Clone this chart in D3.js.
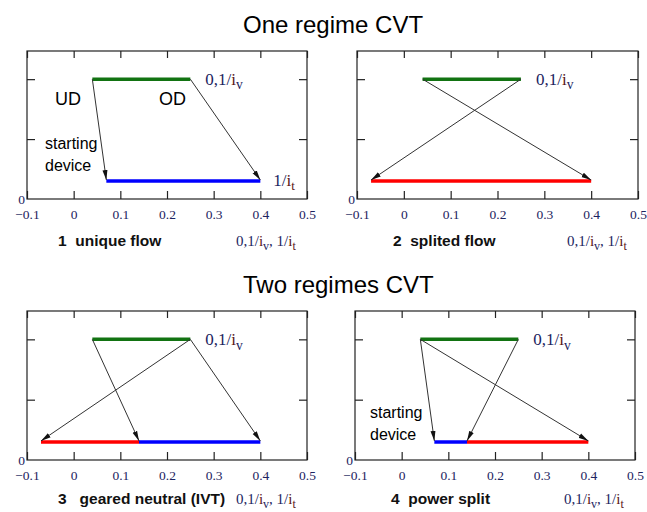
<!DOCTYPE html>
<html><head><meta charset="utf-8">
<script src="https://cdn.jsdelivr.net/npm/d3@7"></script>
<style>body{margin:0;background:#fff}svg{display:block}</style>
</head><body>
<script>
// ---- data ----
const sectionTitles = ["One regime CVT", "Two regimes CVT"];
const captions = ["1  unique flow", "2  splited flow", "3   geared neutral (IVT)", "4  power split"];
const xTickValues = [-0.1, 0, 0.1, 0.2, 0.3, 0.4, 0.5];
const xTickLabels = ["\u22120.1", "0", "0.1", "0.2", "0.3", "0.4", "0.5"];
const yTickValues = [1, 2];
const xDomain = [-0.1, 0.5];
const yDomain = [0, 2.47];
const variatorLevel = 2;      // 0,1/i_v line
const outputLevel = 0.3;      // 1/i_t line
const variatorRange = [0.04, 0.25];
const outputSegments = [
  [{x0: 0.07, x1: 0.40, kind: "blue"}],
  [{x0: -0.07, x1: 0.40, kind: "red"}],
  [{x0: -0.07, x1: 0.14, kind: "red"}, {x0: 0.14, x1: 0.40, kind: "blue"}],
  [{x0: 0.07, x1: 0.14, kind: "blue"}, {x0: 0.14, x1: 0.40, kind: "red"}]
];
const arrows = [
  [[0.04, 0.07], [0.25, 0.40]],
  [[0.25, -0.07], [0.04, 0.40]],
  [[0.25, -0.07], [0.04, 0.14], [0.25, 0.40]],
  [[0.04, 0.07], [0.25, 0.14], [0.04, 0.40]]
];

// ---- layout ----
const W = 647, H = 512;
const boxes = [
  {l: 27, r: 307, t: 51, b: 199, cap: 47},
  {l: 357, r: 638, t: 51, b: 199, cap: 47},
  {l: 27, r: 307, t: 311, b: 460, cap: 44},
  {l: 355, r: 635, t: 311, b: 460, cap: 44}
];
const colors = {green: "#127312", blue: "#0000ff", red: "#ff0000"};
const serif = "'Liberation Serif','Times New Roman',serif";
const sans = "'Liberation Sans',Arial,sans-serif";
const numColor = "#1c2460";
const iColor = "#5a1414";

const svg = d3.select("body").append("svg").attr("width", W).attr("height", H);
svg.append("rect").attr("width", W).attr("height", H).attr("fill", "#fff");

const defs = svg.append("defs");
defs.append("marker").attr("id", "ah").attr("markerUnits", "userSpaceOnUse")
  .attr("markerWidth", 10).attr("markerHeight", 6).attr("refX", 10).attr("refY", 3)
  .attr("orient", "auto")
  .append("path").attr("d", "M0,0.5L10,3L0,5.5Z").attr("fill", "#111");

// section titles
[33, 293].forEach((y, i) => {
  svg.append("text").attr("x", 243).attr("y", y).style("font-family", sans)
    .style("font-size", "24px").attr("fill", "#000").text(sectionTitles[i]);
});

function ivLabel(g, x, y, size, withT) {
  const t = g.append("text").attr("x", x).attr("y", y).style("font-family", serif)
    .style("font-size", size + "px").attr("fill", numColor);
  t.append("tspan").text("0,1/");
  t.append("tspan").attr("fill", iColor).text("i");
  t.append("tspan").style("font-size", (size * 0.8) + "px").attr("dy", size * 0.25).text("v");
  if (withT) {
    t.append("tspan").attr("dy", -size * 0.25).text(", 1/");
    t.append("tspan").attr("fill", iColor).text("i");
    t.append("tspan").style("font-size", (size * 0.8) + "px").attr("fill", iColor).attr("dy", size * 0.25).text("t");
  }
  return t;
}

boxes.forEach((bx, p) => {
  const g = svg.append("g");
  const x = d3.scaleLinear().domain(xDomain).range([bx.l, bx.r]);
  const y = d3.scaleLinear().domain(yDomain).range([bx.b, bx.t]);

  // axes with inward ticks
  const bottom = g.append("g").attr("transform", `translate(0,${bx.b})`)
    .call(d3.axisBottom(x).tickValues(xTickValues).tickSize(-8).tickPadding(10)
      .tickFormat((d, i) => xTickLabels[i]));
  bottom.attr("font-family", null).attr("font-size", null);
  bottom.selectAll("text").style("font-family", serif).style("font-size", "13.5px").attr("fill", numColor);
  const top = g.append("g").attr("transform", `translate(0,${bx.t})`)
    .call(d3.axisTop(x).tickValues(xTickValues).tickSize(-7).tickFormat(""));
  const left = g.append("g").attr("transform", `translate(${bx.l},0)`)
    .call(d3.axisLeft(y).tickValues(yTickValues).tickSize(-8).tickFormat(""));
  const right = g.append("g").attr("transform", `translate(${bx.r},0)`)
    .call(d3.axisRight(y).tickValues(yTickValues).tickSize(-8).tickFormat(""));
  [bottom, top, left, right].forEach(a => {
    a.select(".domain").remove();
    a.selectAll("line").attr("stroke", "#222").attr("stroke-width", 1.2);
  });
  g.append("rect").attr("x", bx.l).attr("y", bx.t).attr("width", bx.r - bx.l).attr("height", bx.b - bx.t)
    .attr("fill", "none").attr("stroke", "#222").attr("stroke-width", 1.2);
  g.append("text").attr("x", bx.l - 2).attr("y", bx.b + 5).attr("text-anchor", "end")
    .style("font-family", serif).style("font-size", "13.5px").attr("fill", numColor).text("0");

  // variator line
  g.append("line").attr("x1", x(variatorRange[0])).attr("x2", x(variatorRange[1]))
    .attr("y1", y(variatorLevel)).attr("y2", y(variatorLevel))
    .attr("stroke", colors.green).attr("stroke-width", 3.5);
  // output segments
  outputSegments[p].forEach(s => {
    g.append("line").attr("x1", x(s.x0)).attr("x2", x(s.x1))
      .attr("y1", y(outputLevel)).attr("y2", y(outputLevel))
      .attr("stroke", colors[s.kind]).attr("stroke-width", 3.5);
  });
  // arrows
  arrows[p].forEach(([a, b]) => {
    g.append("line").attr("x1", x(a)).attr("y1", y(variatorLevel))
      .attr("x2", x(b)).attr("y2", y(outputLevel) - 1)
      .attr("stroke", "#333").attr("stroke-width", 1).attr("marker-end", "url(#ah)");
  });

  // labels
  ivLabel(g, x(0.25) + 15, y(variatorLevel) + 6, 17, false);
  ivLabel(g, bx.r - 71, bx.b + bx.cap, 15, true);
  g.append("text").attr("x", bx.l + 31 + (p % 2 ? 5 : 0)).attr("y", bx.b + bx.cap)
    .style("font-family", sans).style("font-weight", "bold").style("font-size", "15.5px")
    .attr("fill", "#111").style("white-space", "pre")
    .text(captions[p]);
});

// panel 1 extra labels
{
  const bx = boxes[0];
  const x = d3.scaleLinear().domain(xDomain).range([bx.l, bx.r]);
  const y = d3.scaleLinear().domain(yDomain).range([bx.b, bx.t]);
  const t = svg.append("text").attr("x", x(0.4) + 13).attr("y", y(outputLevel) + 5)
    .style("font-family", serif).style("font-size", "17px").attr("fill", numColor);
  t.append("tspan").text("1/");
  t.append("tspan").attr("fill", iColor).text("i");
  t.append("tspan").style("font-size", "13px").attr("fill", iColor).attr("dy", 4).text("t");
  svg.append("text").attr("x", 55).attr("y", 105).style("font-family", sans).style("font-size", "18px").text("UD");
  svg.append("text").attr("x", 159).attr("y", 105).style("font-family", sans).style("font-size", "18px").text("OD");
  svg.append("text").attr("x", 45).attr("y", 149).style("font-family", sans).style("font-size", "16px").text("starting");
  svg.append("text").attr("x", 45).attr("y", 171).style("font-family", sans).style("font-size", "16px").text("device");
}
// panel 4 extra labels
svg.append("text").attr("x", 370).attr("y", 418).style("font-family", sans).style("font-size", "16px").text("starting");
svg.append("text").attr("x", 370).attr("y", 440).style("font-family", sans).style("font-size", "16px").text("device");
</script>
</body></html>
